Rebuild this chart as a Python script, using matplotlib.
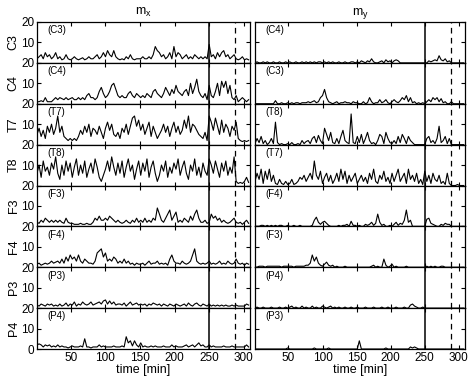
import numpy as np
import matplotlib
matplotlib.use('Agg')
import matplotlib.pyplot as plt

plt.rcParams['font.family'] = ['Liberation Sans', 'DejaVu Sans']
plt.rcParams['mathtext.default'] = 'regular'

# sampled every 3 min starting at t = 1 min
STEP = 3

# left column (m_x)
c3_x = [2,3,4,2,5,3,4,2,3,5, 2,3,1.5,2,4,2,1.5,2,3,2, 1.5,2,2.5,1.5,2,3,2,2,3,4,
        2,3,5,3,6,4,3,6,3,2, 1.5,2,1.5,3,2,4,2,1.5,2,2, 2,3,2,2,3,2,4,8,6,5,
        3,4,2,3,5,2,8,3,5,4, 2,3,4,2,3,2,4,3,2,3, 2,3,2,9,3,4,2,5,3,5,
        6,3,4,2,3,4,2,1.5,2,3, 1.5,2,1.5]
c4_x = [1,1,1.5,1,3,1,1,1,2,3, 2,3,2.5,2,3,2,2.5,3,2,2, 3,2,3,2,4,5,3,3,2,3,
        6,8,5,3,4,6,9,10,7,4, 3,4,3,3,5,6,4,3,5,4, 3,4,3,5,4,3,6,7,5,4,
        3,5,8,6,4,7,5,9,6,5, 4,6,7,4,10,5,8,12,6,4, 3,5,2,9,4,3,6,10,4,11,
        8,11,5,9,3,2,4,1,2,3, 2,1,2]
t7_x = [5,8,4,7,3,9,6,10,5,8, 14,6,9,4,3,2,3,2,3,2, 4,7,5,9,6,10,4,8,7,5,
        9,6,3,8,11,7,10,5,4,6, 3,8,6,10,5,9,13,14,9,12, 7,10,5,8,11,4,9,6,3,5,
        7,10,6,9,4,8,11,6,9,5, 7,12,8,14,6,10,9,7,5,4, 3,6,2,14,11,7,13,9,5,12,
        6,10,8,4,9,7,11,3,2,1.5, 2,1.5,2]
t8_x = [6,10,4,12,7,9,5,11,8,14, 6,3,10,5,12,7,11,4,9,13, 5,10,6,12,4,8,11,6,13,9,
        4,2,5,8,12,7,14,9,5,11, 6,12,4,9,13,7,10,3,8,12, 5,11,7,13,4,9,12,6,2,5,
        10,7,12,4,9,6,11,8,13,5, 9,12,6,3,10,7,13,5,9,4, 11,7,5,13,10,6,12,8,4,11,
        7,12,5,9,6,14,2,1,1.5,1, 2,4,1.5]
f3_x = [2,1.5,3,2,4,3,2,3,2,3, 2,3,2,1.5,4,2,1.5,1.5,1,1, 1,1.5,1,1,1.5,1,1,2,4,3,
        5,3,3,4,3,5,4,3,2,3, 2,1.5,2,3,2,1.5,3,2,4,2, 3,2,4,2,3,2,4,3,9,6,
        3,2,4,6,8,3,5,7,2,3, 2,4,3,2,5,3,6,8,4,2, 2,3,1.5,2,6,4,5,3,4,2,
        3,2,1.5,2,3,4,2,1.5,2,1, 2,3,1.5]
f4_x = [1.5,2,1,1.5,2,1.5,2,3,2,2.5, 3,2,4,2,5,3,6,4,5,3, 6,3,2,4,3,2,2,1.5,3,7,
        8,9,5,7,3,4,3,5,4,2, 3,2,4,2,3,1.5,2,1,2,1.5, 1.5,2,1,2,3,1.5,2,2,3,1.5,
        2,1.5,2,1,4,6,3,2,2,1.5, 3,2,1.5,2,3,6,9,3,2,1.5, 2,1.5,2,3,1.5,2,1.5,2,3,1.5,
        2,1.5,3,2,1.5,2,4,2,1.5,2, 1,2,1.5]
p3_x = [1.5,1,2,1.5,1,2,1.5,2,1,1.5, 1,2,1,1.5,2.5,1,2,1.5,3,1, 2,1.5,3,2,1.5,2,3,1.5,2,2.5,
        3,2,3.5,4,2,3.5,2,3,1.5,2, 2,1.5,2.5,1,2,3,1.5,2,2.5,1.5, 2,1.5,2,1,2,1.5,2.5,2,1.5,2,
        1,2,1.5,1,2,1.5,1,2,1.5,1, 1.5,2,1,2.5,1.5,1,2,2.5,1.5,1, 2,1.5,1,2,1,1.5,1,1.5,1,1.5,
        1,1.5,1,1,1.5,1,1.5,1,1,1, 1,2,1.5]
p4_x = [2,2.5,2,1,2,1.5,2,1,1.5,1, 2,1,1.5,1,1,0.5,1,1.5,1,1, 1,1.5,1,5,1,1,0.5,1,1,1,
        2,1,1.5,1,1,1,1,1.5,1,1, 1,1.5,1,6,3,4,1.5,4,2,1, 3,1,1.5,1,1,1.5,1,1.5,1,1,
        1,1.5,1,1,1,2,1,1.5,1,1, 1,1.5,2,1,1.5,2,1,2,3,1.5, 2,1,1,2,1,1.5,1,1,1,1,
        1.5,1,1,1,1.5,1,1,1,1,1, 1,2,1]

# right column (m_y)
c4_y = [0,0.5,0,0,0.5,0,0.5,0,0,0.5, 0,0,0.5,0,0,0.5,0,0.5,0,0, 0.5,0,0,0.5,0,0.5,0,0.5,0,0.5,
        0,0.5,0.5,0,0.5,0,0.5,0,0.5,0, 0,0.5,0,0,0.5,0,0,0.5,0.5,0, 0.5,0,1,0.5,0,1,0.5,2,0.5,0,
        0,0.5,1,0,1.5,0.5,1,0,1,1.5, 1,0,0,0,0,0,0,0,0,0, 0,0,0,0,0,1,0.5,1,1.5,1,
        3.5,1.5,1,2,0.5,1,0,0,0,0, 0,0,0]
c3_y = [0,0,0,0,0,0,0,0,0,0, 1.5,0,0,0.5,0,0,0.5,0,0.5,0, 0.5,0.5,0,0.5,0.5,0.5,1,0.5,1,1.5,
        0.5,1,3,4,7,3,1,0.5,0,0.5, 1,0,0.5,0.5,1,0.5,0.5,0,1,0.5, 0.5,0,0,1,0,0.5,3,1,0,0.5,
        0.5,2,0.5,1,2,0.5,0,1,2,1, 0.5,1.5,3,2,4,1,3,0.5,1,0, 0.5,0,0.5,0,1,2,1,3,2,3,
        1,2.5,0.5,1,0,0,1,0,0,0, 0,0,0]
t8_y = [0.5,3,1,4,0.5,2,0,1,3,0.5, 11,1,0,0.5,0,0,0.5,0,1,0, 0,0.5,0,2,0.5,1.5,2,0.5,3,4,
        1,4.5,2,0.5,8,5,2,6,1,0.5, 3,0.5,4,7,2,1,0.5,15,1,0.5, 4,1,5,0.5,3,6,2,0.5,1,0,
        2,5,4,0.5,6,3,1,0.5,2,0.5, 4,1,5,3,0.5,4,2,1,0,0, 0,0,0,0,3,4,1,2,0.5,3,
        9,1,2,4,0.5,3,0,0,0,0, 0,0,0]
t7_y = [2,6,3,8,1,7,3,8,2,5, 1,0.5,3,1,0.5,2,0.5,1,3,0.5, 1,2,4,3,5,2,4,6,3,12,
        5,3,7,1,4,6,2,5,1,3, 6,2,8,3,7,1,5,2,4,6, 1,3,5,2,4,1,6,3,8,2,
        1,5,3,7,2,4,1,6,2,5, 8,2,4,6,1,8,3,5,2,6, 1,3,0.5,7,2,5,1,6,3,2,
        5,1,2,0.5,6,1,0,0,0,0.5, 0,0,0]
f4_y = [0,0,0,0.5,0.5,0,0.5,0,0.5,0, 0.5,0,0.5,0.5,0,0,0.5,0,0,0.5, 0,0,0.5,0,0,0,0,0,0.5,3,
        4.5,2,1,2,2.5,1.5,0.5,0,0,0, 0,0.5,0,0.5,0.5,1,0,2.5,0.5,0.5, 0,0.5,0,0,1,0.5,1,2,0.5,1.5,
        6,2,0.5,1,0,0,0.5,0,1,2, 0.5,1.5,1,3,8,2,3,0,0,0, 0,0,0,0,3.5,4,1.5,1,0.5,0,
        0,1,0.5,1.5,1,1,0,0,0,0, 0,0,0]
f3_y = [0,0,0.5,0.5,0.5,0,0.5,0.5,0.5,0.5, 0.5,0.5,0.5,0,0.5,0.5,0.5,0.5,0.5,0, 0.5,0.5,0.5,0.5,0.5,1,1,2,6,3,
        5,2,1,0.5,1.5,2.5,1,0.5,1,0, 0.5,0,0,0,0.5,0,0,0,0,0, 0,0,0,0,0,0,0,0.5,1,0,
        0.5,0,0,4,1,0,0.5,1.5,0,0.5, 0,0,0,0,0.5,0,0,0,0,0, 0,0,0,0,0.5,0,0.5,0,0.5,0,
        0,0.5,0.5,0,0,0,0,0,0,0, 0,0,0]
p4_y = [0,0.5,0,0,0.5,0,0,0,0.5,0, 0,0,0.5,0,0,0.5,0,0.5,1,0, 0.5,0,0,1,0,0.5,0,0,1,0,
        0.5,0,0,1,0.5,0,0.5,1,0,0.5, 0,0.5,0,0,0.5,0,0,0.5,0,0, 0.5,0,0,0,0.5,0,0,0,0.5,0,
        0,0,0.5,0,0,0.5,0,0,0,0.5, 0,0,0,0.5,0,0,1.5,2,1,0.5, 0,0,0.5,0,0,0,0,0,0,0,
        0,0,0,0,0,0,0,0,0,0, 0,0,0]
p3_y = [0,0,0,0,0,0,0,0,0,0, 0,0,0,0,0,0,0.5,0,0,0, 0,0,0,0,0,0,0,0,0,0.5,
        0,0,0,0,0,0,0.5,0,0,0, 0,0,0,0,0,0,0,0,0,0, 0,4,0,0,0,0,0,0,0,0,
        0,0,0,0,0.5,0,0,0,0,0, 0,0,0,0,0,0,1,0.5,1,0.5, 0,0,0,0,0,0,0,0,0,0,
        0,0,0,0,0,0,0,0,0,0, 0,0,0]

rows_left = ['C3', 'C4', 'T7', 'T8', 'F3', 'F4', 'P3', 'P4']
rows_right = ['C4', 'C3', 'T8', 'T7', 'F4', 'F3', 'P4', 'P3']
left_data = [c3_x, c4_x, t7_x, t8_x, f3_x, f4_x, p3_x, p4_x]
right_data = [c4_y, c3_y, t8_y, t7_y, f4_y, f3_y, p4_y, p3_y]

t_event = 250
t_dash = 288

fig = plt.figure(figsize=(4.75, 3.82), dpi=100)
W, H = 475.0, 382.0
top, bottom = 22.0, 349.0
ph = (bottom - top) / 8
cols = [(37.0, 250.0), (255.0, 465.0)]

for c, (x0, x1) in enumerate(cols):
    data = left_data if c == 0 else right_data
    names = rows_left if c == 0 else rows_right
    for r in range(8):
        y_top = top + r * ph
        ax = fig.add_axes([x0 / W, 1 - (y_top + ph) / H, (x1 - x0) / W, ph / H])
        s = np.array(data[r], dtype=float)
        t = np.arange(len(s)) * STEP + 1
        ax.plot(t, s, color='black', lw=0.8)
        ax.axvline(t_event, color='black', lw=1.1)
        ax.axvline(t_dash, color='black', lw=0.9, ls=(0, (4.5, 3.5)))
        ax.set_xlim(1, 309)
        ax.set_ylim(0, 20)
        ax.set_xticks([50, 100, 150, 200, 250, 300])
        ax.set_yticks([0, 10, 20])
        ax.tick_params(direction='in', length=3, width=0.8, top=True, right=True,
                       labelsize=8.5, pad=2)
        for sp in ax.spines.values():
            sp.set_linewidth(0.9)
        ax.text(0.05, 0.92, '(' + names[r] + ')', transform=ax.transAxes,
                fontsize=7, va='top', ha='left')
        if c == 0:
            ax.set_yticklabels(['0' if r == 7 else '', '10', '20'])
            ax.set_ylabel(names[r], fontsize=9, labelpad=1)
        else:
            ax.set_yticklabels([])
        if r == 7:
            ax.set_xlabel('time [min]', fontsize=9, labelpad=0)
        else:
            ax.set_xticklabels([])
        if r == 0:
            ax.set_title('m$_{x}$' if c == 0 else 'm$_{y}$', fontsize=9, pad=5)

fig.savefig('out.png', dpi=100)
